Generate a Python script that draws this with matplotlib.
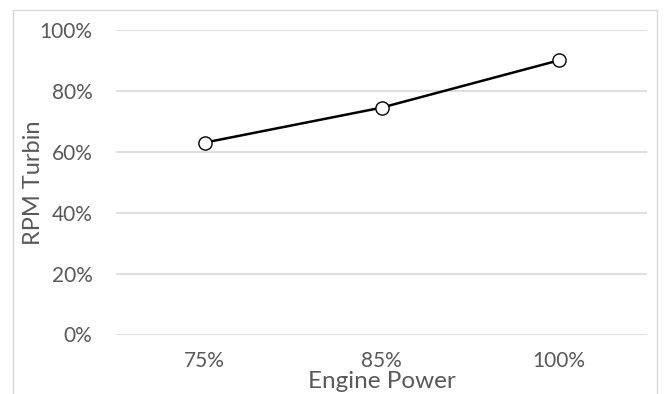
import matplotlib.pyplot as plt
from matplotlib.lines import Line2D

# engine power levels and the turbine rpm reached at each
power_labels = ["75%", "85%", "100%"]
rpm_turbin = [0.63, 0.745, 0.90]
y_ticks = [0, 0.2, 0.4, 0.6, 0.8, 1.0]
y_tick_labels = ["0%", "20%", "40%", "60%", "80%", "100%"]

plt.rcParams['font.family'] = ['Lato', 'DejaVu Sans']
text_grey = '#595959'
grid_grey = '#d9d9d9'

fig = plt.figure(figsize=(6.66, 3.94), dpi=100)
ax = fig.add_axes([116/666, 1 - 334.5/394, 531/666, 304.5/394])

xs = range(len(power_labels))
ax.plot(xs, rpm_turbin, color='black', lw=1.8, marker='o', ms=9.5,
        mfc='white', mec='black', mew=1.0, zorder=3)

ax.set_xlim(-0.5, len(power_labels) - 0.5)
ax.set_ylim(0, 1)
ax.set_yticks(y_ticks)
ax.set_yticklabels(y_tick_labels)
ax.set_xticks(list(xs))
ax.set_xticklabels(power_labels)
ax.tick_params(axis='y', length=0, pad=17, labelsize=15, labelcolor=text_grey)
ax.tick_params(axis='x', length=0, pad=12, labelsize=15, labelcolor=text_grey)
ax.yaxis.grid(True, color=grid_grey, lw=1.2)
ax.set_axisbelow(True)
for s in ax.spines.values():
    s.set_visible(False)

fig.text(382/666, 1 - 382/394, "Engine Power", ha='center', va='center',
         fontsize=17.5, color=text_grey)
fig.text(34/666, 1 - 183/394, "RPM Turbin", ha='center', va='center',
         rotation=90, fontsize=17, color=text_grey)

# chart area frame, bottom edge falls outside the image
x0, x1, y0 = 13/666, 657/666, 1 - 10/394
for xd, yd in [([x0, x0], [0, y0]), ([x0, x1], [y0, y0]), ([x1, x1], [y0, 0])]:
    fig.add_artist(Line2D(xd, yd, color=grid_grey, lw=1.0))

fig.savefig("out.png", dpi=100)
